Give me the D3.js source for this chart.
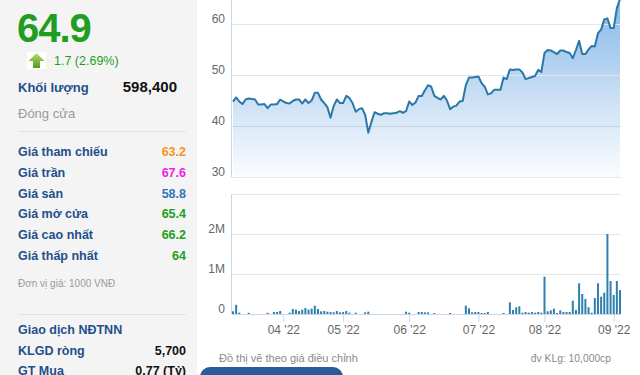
<!DOCTYPE html>
<html>
<head>
<meta charset="utf-8">
<script src="https://cdn.jsdelivr.net/npm/d3@7"></script>
<style>
  body { margin: 0; background: #fff; }
  svg { display: block; font-family: "Liberation Sans", Arial, sans-serif; }
</style>
</head>
<body>
<svg width="640" height="375"></svg>
<script>
// gia dong cua theo phien (1000 VND), tu giua thang 3 den dau thang 9/2022
const prices = [
  44.8, 45.6, 44.8, 44.3, 45.2, 45.4, 45.3, 45.2, 44.2, 44.2,
  44.3, 43.5, 44.2, 44.2, 44.3, 45.2, 44.8, 44.5, 44.4, 44.9,
  45.2, 45.2, 44.4, 45.2, 44.5, 45.0, 46.5, 46.5, 45.2, 44.5,
  43.7, 41.6, 43.9, 45.2, 44.5, 44.5, 45.9, 45.5, 44.5, 42.8,
  43.3, 43.5, 42.2, 38.7, 40.8, 42.7, 42.4, 42.2, 42.5, 42.5,
  42.4, 42.5, 42.6, 42.9, 42.6, 42.9, 44.8, 44.1, 44.6, 45.9,
  45.9, 47.0, 48.0, 47.7, 45.9, 45.5, 45.2, 45.9, 45.0, 43.3,
  43.8, 44.0, 44.8, 44.9, 48.0, 49.5, 49.5, 49.6, 49.7, 48.4,
  47.7, 46.2, 46.4, 47.1, 47.1, 47.1, 49.5, 49.2, 51.1, 51.0,
  51.1, 51.1, 50.5, 49.2, 49.4, 49.6, 49.8, 51.0, 50.6, 54.3,
  54.9, 54.8, 54.5, 54.1, 54.8, 54.8, 54.5, 54.3, 53.3, 54.9,
  56.7, 54.1, 54.1, 55.0, 55.7, 55.6, 58.2, 58.9, 60.9, 61.1,
  59.2, 59.2, 63.1, 64.9
];

// khoi luong theo phien (nghin co phieu)
const volumes = [
  67, 230, 33, 0, 0, 30, 0, 0, 0, 0,
  0, 30, 0, 50, 50, 75, 0, 0, 33, 125,
  108, 75, 108, 150, 108, 133, 208, 125, 67, 75,
  58, 50, 42, 75, 42, 50, 75, 33, 0, 33,
  0, 0, 42, 58, 0, 0, 0, 0, 0, 0,
  0, 0, 0, 0, 0, 58, 33, 0, 0, 50,
  50, 42, 42, 0, 25, 0, 0, 0, 0, 25,
  0, 0, 0, 0, 208, 142, 42, 50, 50, 25,
  25, 50, 0, 0, 0, 0, 25, 0, 292, 100,
  167, 192, 33, 50, 33, 50, 33, 50, 33, 933,
  67, 92, 133, 25, 92, 50, 50, 50, 333, 100,
  767, 500, 375, 167, 33, 400, 767, 433, 533, 2000,
  825, 475, 825, 598
];

const monthTicks = [16, 35, 56, 78, 99, 121];
const monthLabels = ["04 '22", "05 '22", "06 '22", "07 '22", "08 '22", "09 '22"];
const priceTicks = [30, 40, 50, 60];
const volumeTicks = [0, 1000, 2000, 3000];
const volumeLabels = ['0', '1M', '2M', ''];

const lastPrice = '64.9';
const change = '1.7 (2.69%)';
const volumeToday = '598,400';
const infoLabels = ['Giá tham chiếu', 'Giá trần', 'Giá sàn', 'Giá mở cửa', 'Giá cao nhất', 'Giá thấp nhất'];
const infoValues = ['63.2', '67.6', '58.8', '65.4', '66.2', '64'];
const foreignLabels = ['KLGD ròng', 'GT Mua'];
const foreignValues = ['5,700', '0.77 (Tỷ)'];

const svg = d3.select('svg');
const width = +svg.attr('width');
const height = +svg.attr('height');

const green = '#1f9e1f';
const labelBlue = '#1f4f8c';
const infoColors = ['#f7941d', '#ee1fe6', '#2c78b8', green, green, green];

// ---- panel trai ----
svg.append('rect').attr('width', 197).attr('height', height).attr('fill', '#f4f4f4');

const left = svg.append('g');

left.append('text').attr('x', 17).attr('y', 42)
    .attr('font-size', 40).attr('font-weight', 'bold').attr('letter-spacing', -1)
    .attr('fill', green).text(lastPrice);

// mui ten tang
const arrow = left.append('g').attr('transform', 'translate(27,52)');
arrow.append('rect').attr('width', 19).attr('height', 17).attr('fill', '#fff');
const grad = svg.append('defs').append('linearGradient').attr('id', 'arrowGrad')
    .attr('x1', 0).attr('y1', 0).attr('x2', 0).attr('y2', 1);
grad.append('stop').attr('offset', 0).attr('stop-color', '#b5e070');
grad.append('stop').attr('offset', 1).attr('stop-color', '#4f9a1c');
arrow.append('path').attr('d', 'M9.5,1 L17.5,9 L13,9 L13,16 L6,16 L6,9 L1.5,9 Z')
    .attr('fill', 'url(#arrowGrad)');

left.append('text').attr('x', 54).attr('y', 65)
    .attr('font-size', 12.5).attr('fill', green).text(change);

left.append('text').attr('x', 18).attr('y', 92)
    .attr('font-size', 13).attr('font-weight', 'bold').attr('fill', labelBlue).text('Khối lượng');
left.append('text').attr('x', 177).attr('y', 92).attr('text-anchor', 'end')
    .attr('font-size', 15).attr('font-weight', 'bold').attr('fill', '#111').text(volumeToday);

left.append('text').attr('x', 18).attr('y', 118)
    .attr('font-size', 13).attr('fill', '#9a9a9a').text('Đóng cửa');

left.append('line').attr('x1', 18).attr('x2', 186).attr('y1', 131.5).attr('y2', 131.5)
    .attr('stroke', '#e2e2e2');

const rowY = d3.scaleLinear().domain([0, 5]).range([156, 260]);

left.selectAll('text.info-label').data(infoLabels).join('text')
    .attr('class', 'info-label')
    .attr('x', 18).attr('y', (d, i) => rowY(i))
    .attr('font-size', 12.5).attr('font-weight', 'bold').attr('fill', labelBlue)
    .text(d => d);

left.selectAll('text.info-value').data(infoValues).join('text')
    .attr('class', 'info-value')
    .attr('x', 186).attr('y', (d, i) => rowY(i)).attr('text-anchor', 'end')
    .attr('font-size', 12.5).attr('font-weight', 'bold').attr('fill', (d, i) => infoColors[i])
    .text(d => d);

left.append('text').attr('x', 18).attr('y', 287)
    .attr('font-size', 10).attr('fill', '#9a9a9a').text('Đơn vị giá: 1000 VNĐ');

left.append('line').attr('x1', 18).attr('x2', 186).attr('y1', 314.5).attr('y2', 314.5)
    .attr('stroke', '#e2e2e2');

left.append('text').attr('x', 18).attr('y', 334)
    .attr('font-size', 12.5).attr('font-weight', 'bold').attr('fill', labelBlue).text('Giao dịch NĐTNN');

left.selectAll('text.f-label').data(foreignLabels).join('text')
    .attr('class', 'f-label')
    .attr('x', 18).attr('y', (d, i) => 354.5 + i * 20.8)
    .attr('font-size', 12.5).attr('font-weight', 'bold').attr('fill', labelBlue)
    .text(d => d);

left.selectAll('text.f-value').data(foreignValues).join('text')
    .attr('class', 'f-value')
    .attr('x', 186).attr('y', (d, i) => 354.5 + i * 20.8).attr('text-anchor', 'end')
    .attr('font-size', 12.5).attr('font-weight', 'bold').attr('fill', '#111')
    .text(d => d);

// ---- bieu do ----
const plotLeft = 232;
const plotRight = 621;

const x = d3.scaleLinear()
    .domain([0, prices.length - 1])
    .range([233, 620]);

const yPrice = d3.scaleLinear()
    .domain([30, 60])
    .range([177, 24]);

const yVol = d3.scaleLinear()
    .domain([0, 3000])
    .range([314, 194]);

const chart = svg.append('g');

// gradient cho vung gia
const areaGrad = svg.select('defs').append('linearGradient').attr('id', 'areaGrad')
    .attr('gradientUnits', 'userSpaceOnUse')
    .attr('x1', 0).attr('y1', 0).attr('x2', 0).attr('y2', yPrice(30));
areaGrad.append('stop').attr('offset', 0).attr('stop-color', '#84b8e8');
areaGrad.append('stop').attr('offset', 0.55).attr('stop-color', '#cadff4');
areaGrad.append('stop').attr('offset', 1).attr('stop-color', '#fbfdff');

const area = d3.area()
    .x((d, i) => x(i))
    .y0(yPrice(30))
    .y1(d => yPrice(d));

const line = d3.line()
    .x((d, i) => x(i))
    .y(d => yPrice(d));

chart.append('path').datum(prices)
    .attr('d', area)
    .attr('fill', 'url(#areaGrad)');

// luoi gia
chart.selectAll('line.pgrid').data(priceTicks).join('line')
    .attr('class', 'pgrid')
    .attr('x1', plotLeft).attr('x2', plotRight)
    .attr('y1', d => Math.round(yPrice(d)) + 0.5).attr('y2', d => Math.round(yPrice(d)) + 0.5)
    .attr('stroke', d => d === 40 ? 'rgba(120,140,170,0.25)' : '#e6e6e6');

chart.append('path').datum(prices)
    .attr('d', line)
    .attr('fill', 'none')
    .attr('stroke', '#2b78a8')
    .attr('stroke-width', 2)
    .attr('stroke-linejoin', 'round');

// truc trai gia
chart.append('line').attr('x1', plotLeft - 0.5).attr('x2', plotLeft - 0.5)
    .attr('y1', 0).attr('y2', yPrice(30)).attr('stroke', '#ccd6eb');

const priceAxis = chart.append('g')
    .attr('transform', `translate(${plotLeft},0)`)
    .call(d3.axisLeft(yPrice).tickValues(priceTicks).tickSize(0).tickPadding(7));
priceAxis.select('.domain').remove();
priceAxis.selectAll('text')
    .attr('dy', null).attr('y', -1.5)
    .attr('font-family', 'Liberation Sans, Arial, sans-serif')
    .attr('font-size', 12).attr('fill', '#666');

// luoi khoi luong
chart.selectAll('line.vgrid').data(volumeTicks).join('line')
    .attr('class', 'vgrid')
    .attr('x1', plotLeft).attr('x2', plotRight)
    .attr('y1', d => Math.round(yVol(d)) + 0.5).attr('y2', d => Math.round(yVol(d)) + 0.5)
    .attr('stroke', d => d === 0 ? '#ccd6eb' : '#e6e6e6');

chart.append('line').attr('x1', plotLeft - 0.5).attr('x2', plotLeft - 0.5)
    .attr('y1', yVol(3000)).attr('y2', yVol(0)).attr('stroke', '#ccd6eb');

chart.selectAll('rect.vol').data(volumes).join('rect')
    .attr('class', 'vol')
    .attr('x', (d, i) => x(i) - 1)
    .attr('y', d => yVol(d))
    .attr('width', 2)
    .attr('height', d => yVol(0) - yVol(d))
    .attr('fill', '#2f80ad');

const volAxis = chart.append('g')
    .attr('transform', `translate(${plotLeft},0)`)
    .call(d3.axisLeft(yVol).tickValues(volumeTicks).tickFormat((d, i) => volumeLabels[i])
        .tickSize(0).tickPadding(7));
volAxis.select('.domain').remove();
volAxis.selectAll('text')
    .attr('dy', null).attr('y', -1.5)
    .attr('font-family', 'Liberation Sans, Arial, sans-serif')
    .attr('font-size', 12).attr('fill', '#666');

const xAxis = chart.append('g')
    .attr('transform', `translate(0,${yVol(0)})`)
    .call(d3.axisBottom(x).tickValues(monthTicks).tickFormat((d, i) => monthLabels[i])
        .tickSize(8).tickPadding(3));
xAxis.select('.domain').remove();
xAxis.selectAll('line').attr('stroke', '#ccd6eb');
xAxis.selectAll('text')
    .attr('font-family', 'Liberation Sans, Arial, sans-serif')
    .attr('font-size', 12).attr('fill', '#666');

// ghi chu duoi
svg.append('text').attr('x', 219).attr('y', 362)
    .attr('font-size', 11).attr('fill', '#8a8a8a').text('Đồ thị vẽ theo giá điều chỉnh');
svg.append('text').attr('x', 611).attr('y', 362).attr('text-anchor', 'end')
    .attr('font-size', 10.3).attr('fill', '#8a8a8a').text('đv KLg: 10,000cp');

svg.append('rect').attr('x', 200).attr('y', 367).attr('width', 143).attr('height', 22)
    .attr('rx', 10).attr('fill', '#2a5b9a');
</script>
</body>
</html>
